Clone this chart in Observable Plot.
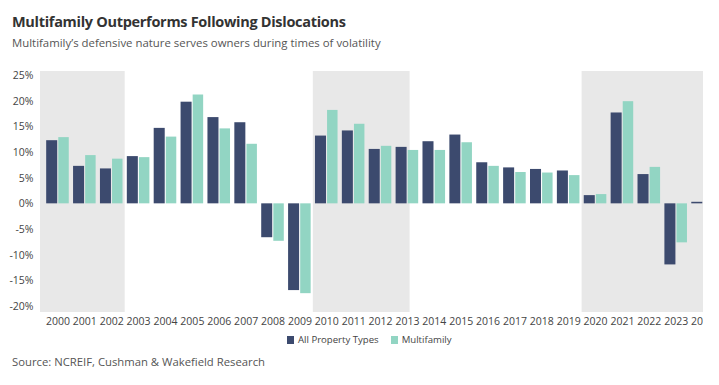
<!DOCTYPE html>
<html><head><meta charset="utf-8">
<script src="https://cdn.jsdelivr.net/npm/d3@7"></script>
<script src="https://cdn.jsdelivr.net/npm/@observablehq/plot@0.6"></script>
<style>
body{margin:0;background:#fff;font-family:"Open Sans",sans-serif;width:719px;height:385px;position:relative;overflow:hidden;}
#title{position:absolute;left:12px;top:12px;font-size:14.5px;letter-spacing:-0.3px;font-weight:700;color:#333;white-space:nowrap;}
#subtitle{position:absolute;left:12px;top:35px;font-size:11.4px;color:#555;white-space:nowrap;}
#chart{position:absolute;left:0;top:60px;width:703px;height:280px;overflow:hidden;}
#chart svg{max-width:none !important;}
#legend{position:absolute;left:287px;top:333px;font-size:9.6px;color:#444;white-space:nowrap;}
#legend span.sw{display:inline-block;width:7px;height:8px;margin-right:4px;vertical-align:-1px;}
#source{position:absolute;left:12px;top:354px;font-size:11.3px;color:#555;white-space:nowrap;}
</style></head><body>
<div id="title">Multifamily Outperforms Following Dislocations</div>
<div id="subtitle">Multifamily’s defensive nature serves owners during times of volatility</div>
<div id="chart"></div>
<div id="legend"><span class="sw" style="background:#3c4a6e"></span>All Property Types<span class="sw" style="background:#92d5c3;margin-left:12px"></span>Multifamily</div>
<div id="source">Source: NCREIF, Cushman &amp; Wakefield Research</div>
<script>
const years = [2000,2001,2002,2003,2004,2005,2006,2007,2008,2009,2010,2011,2012,2013,2014,2015,2016,2017,2018,2019,2020,2021,2022,2023,2024];
const allPropertyTypes = [12.3,7.3,6.8,9.2,14.7,19.8,16.8,15.8,-6.6,-16.9,13.2,14.2,10.6,11.0,12.1,13.4,8.0,7.0,6.7,6.4,1.6,17.7,5.7,-11.9,0.3];
const multifamily = [12.9,9.4,8.7,9.0,13.0,21.2,14.6,11.6,-7.3,-17.5,18.2,15.5,11.2,10.4,10.4,11.9,7.3,6.1,6.0,5.5,1.8,19.9,7.1,-7.6,null];
const shadeStart = [1999.35, 2009.5, 2019.5];
const shadeEnd = [2002.5, 2013.1, 2024.5];
const yTicks = [-20,-15,-10,-5,0,5,10,15,20,25];
const seriesNames = ["All Property Types","Multifamily"];
const colors = ["#3c4a6e","#92d5c3"];

const rowsAll = years.map((y,i)=>({year:y, value:allPropertyTypes[i]})).filter(d=>d.value!=null);
const rowsMf = years.map((y,i)=>({year:y, value:multifamily[i]})).filter(d=>d.value!=null);
const shades = shadeStart.map((s,i)=>({start:s,end:shadeEnd[i]}));

const plot = Plot.plot({
  width: 716, height: 277,
  marginLeft: 40, marginRight: 0, marginTop: 11, marginBottom: 25,
  style: {fontFamily: "'Open Sans', sans-serif", fontSize: "10.5px", color: "#444", background: "transparent", maxWidth: "none"},
  x: {domain: [1999.35, 2024.5], ticks: years, tickFormat: d => String(d), tickSize: 0, tickPadding: 5, label: null},
  y: {domain: [-21.17, 25.78], ticks: yTicks, tickFormat: d => d + "%", tickSize: 0, tickPadding: 7, label: null},
  marks: [
    Plot.rect(shades, {x1: "start", x2: "end", y1: -21.17, y2: 25.78, fill: "#e8e8e8"}),
    Plot.rectY(rowsAll, {x1: d => d.year - 0.42, x2: d => d.year - 0.01, y: "value", fill: colors[0]}),
    Plot.rectY(rowsMf, {x1: d => d.year + 0.03, x2: d => d.year + 0.42, y: "value", fill: colors[1]})
  ]
});
plot.style.maxWidth = "none";
document.getElementById("chart").appendChild(plot);
</script>
</body></html>
